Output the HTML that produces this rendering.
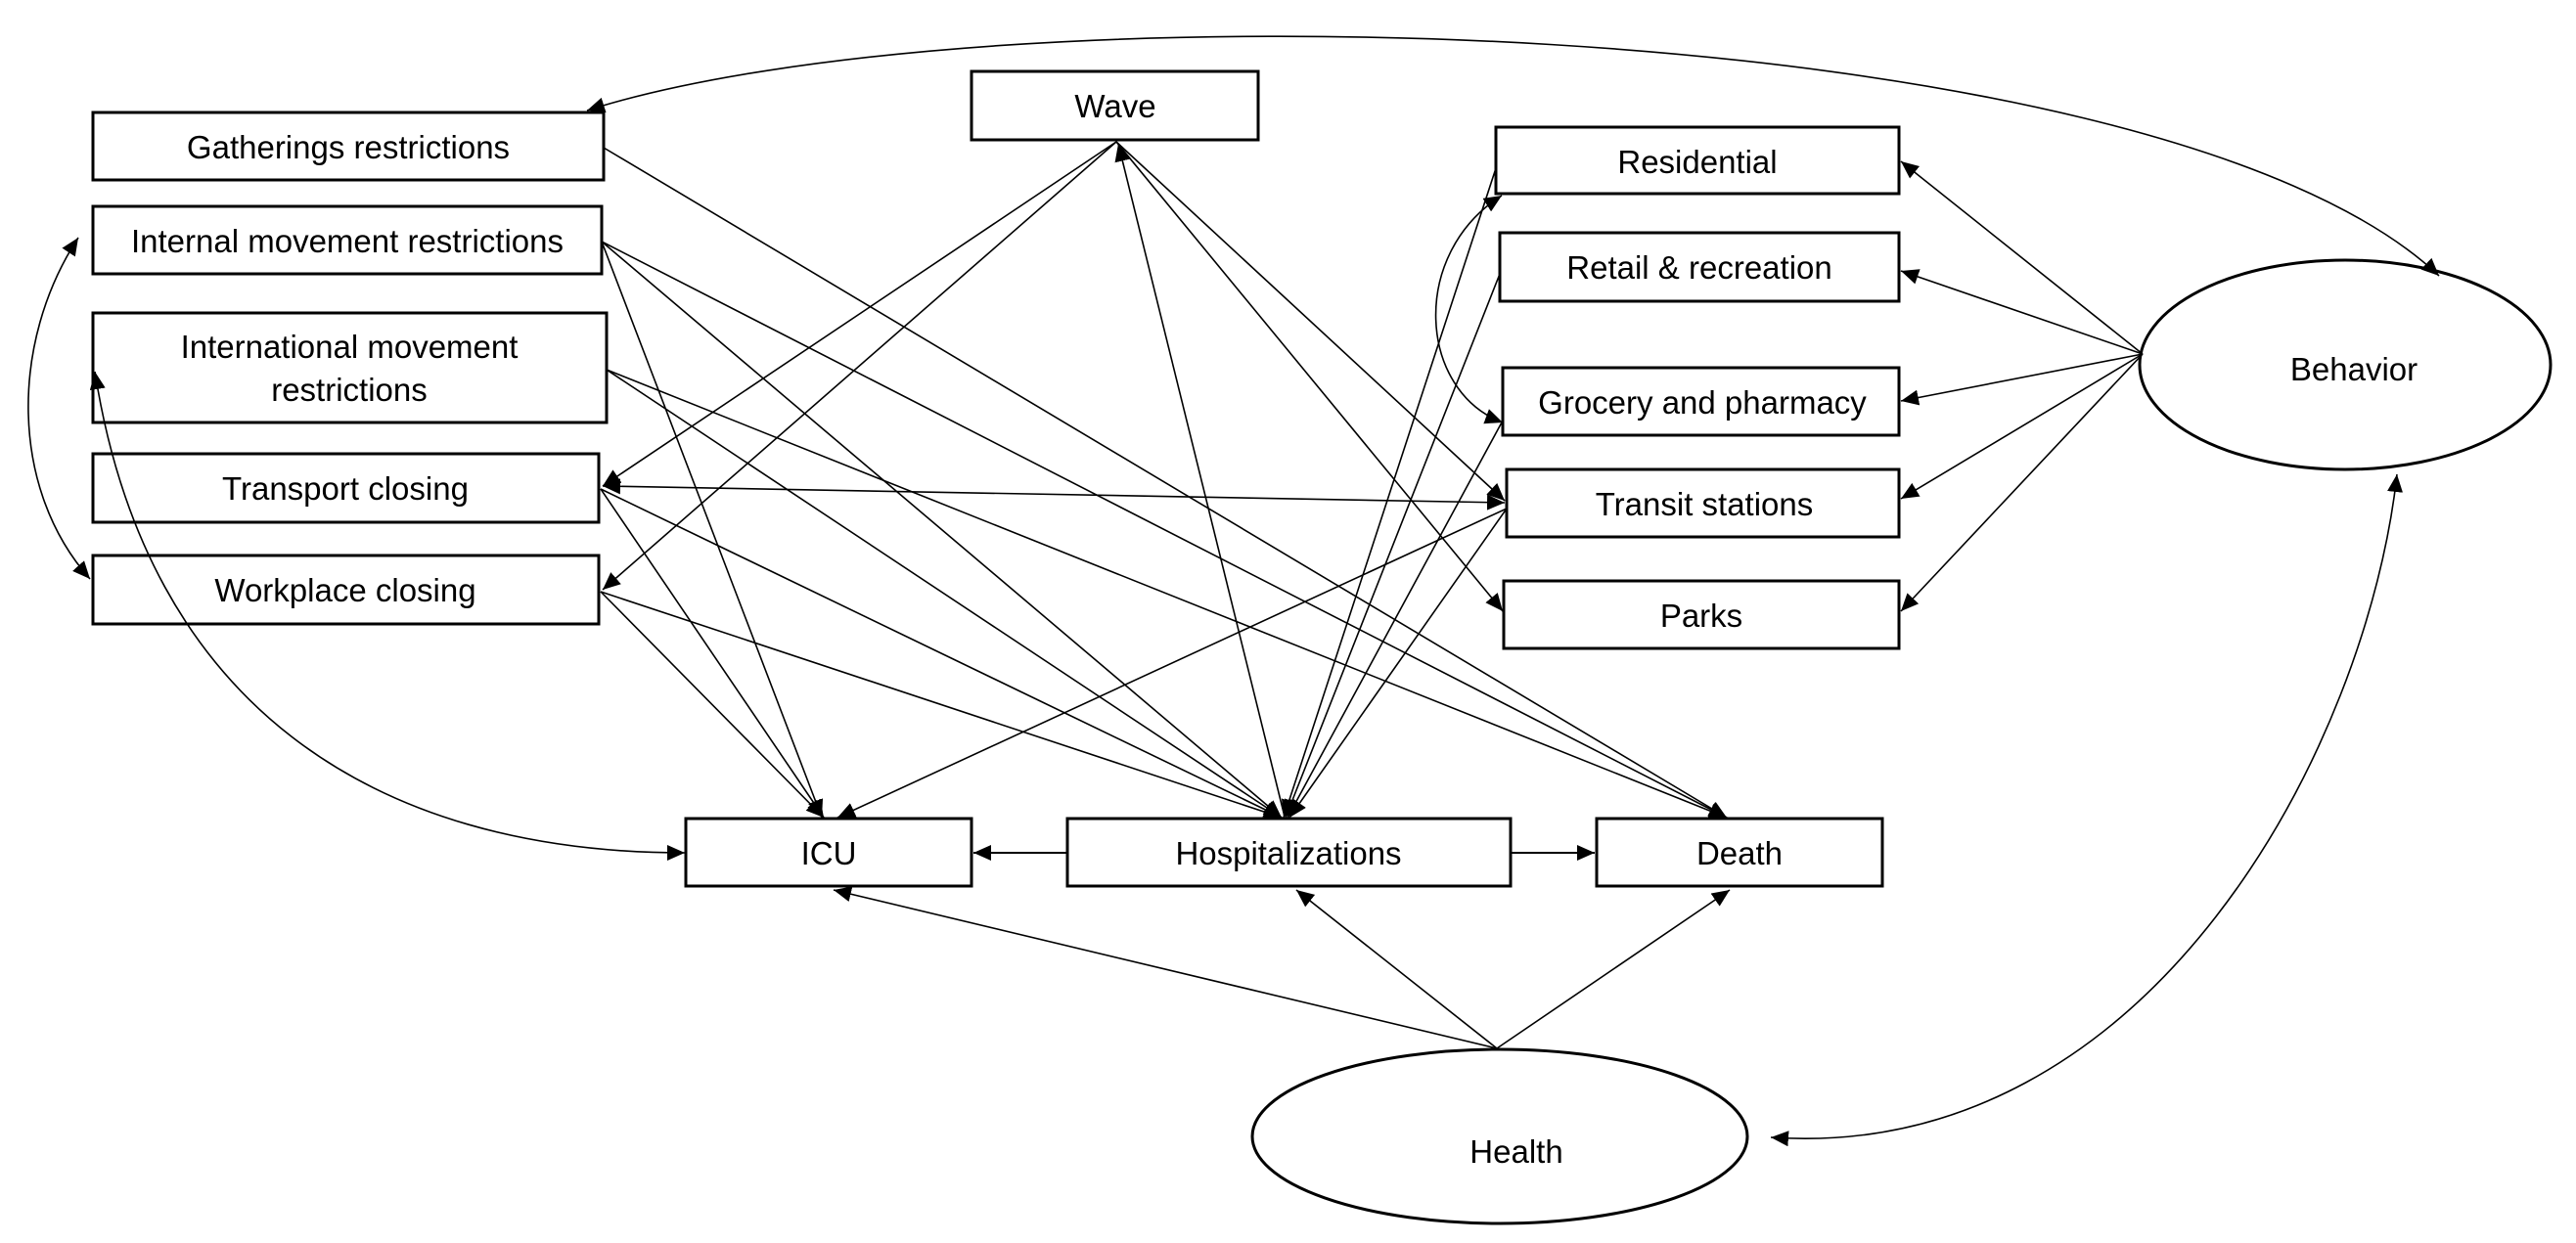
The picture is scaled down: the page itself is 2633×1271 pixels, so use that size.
<!DOCTYPE html>
<html><head><meta charset="utf-8"><style>
html,body{margin:0;padding:0;background:#fff;}
svg{display:block;}
text{font-family:"Liberation Sans",sans-serif;font-size:33px;fill:#000;}
</style></head><body>
<svg width="2633" height="1271" viewBox="0 0 2633 1271" xmlns="http://www.w3.org/2000/svg">
<defs>
<marker id="a" markerUnits="userSpaceOnUse" markerWidth="20" markerHeight="16" refX="18" refY="8" orient="auto"><path d="M0,0 L18,8 L0,16 z" fill="#000"/></marker>
<marker id="s" markerUnits="userSpaceOnUse" markerWidth="20" markerHeight="16" refX="2" refY="8" orient="auto"><path d="M20,0 L2,8 L20,16 z" fill="#000"/></marker>
</defs>
<g fill="#fff" stroke="#000" stroke-width="3">
<rect x="95" y="115" width="522" height="69"/>
<rect x="95" y="211" width="520" height="69"/>
<rect x="95" y="320" width="525" height="112"/>
<rect x="95" y="464" width="517" height="70"/>
<rect x="95" y="568" width="517" height="70"/>
<rect x="993" y="73" width="293" height="70"/>
<rect x="1529" y="130" width="412" height="68"/>
<rect x="1533" y="238" width="408" height="70"/>
<rect x="1536" y="376" width="405" height="69"/>
<rect x="1540" y="480" width="401" height="69"/>
<rect x="1537" y="594" width="404" height="69"/>
<rect x="701" y="837" width="292" height="69"/>
<rect x="1091" y="837" width="453" height="69"/>
<rect x="1632" y="837" width="292" height="69"/>
<ellipse cx="2397" cy="373" rx="210" ry="107"/>
<ellipse cx="1533" cy="1162" rx="253" ry="89"/>
</g>
<g fill="none" stroke="#000" stroke-width="1.6">
<path d="M600,113 C1000,-15 2200,5 2493,282" marker-start="url(#s)" marker-end="url(#a)"/>
<path d="M2450,485 C2420,760 2200,1190 1810,1163" marker-start="url(#s)" marker-end="url(#a)"/>
<path d="M1535,200 C1440,260 1450,400 1536,432" marker-start="url(#s)" marker-end="url(#a)"/>
<path d="M80,243 C10,350 10,500 92,592" marker-start="url(#s)" marker-end="url(#a)"/>
<path d="M97,380 C150,720 380,872 700,872" marker-start="url(#s)" marker-end="url(#a)"/>
<line x1="2190" y1="362" x2="1943" y2="165" marker-end="url(#a)"/>
<line x1="2190" y1="362" x2="1943" y2="277" marker-end="url(#a)"/>
<line x1="2190" y1="362" x2="1943" y2="410" marker-end="url(#a)"/>
<line x1="2190" y1="362" x2="1943" y2="510" marker-end="url(#a)"/>
<line x1="2190" y1="362" x2="1943" y2="625" marker-end="url(#a)"/>
<line x1="1530" y1="1072" x2="852" y2="910" marker-end="url(#a)"/>
<line x1="1530" y1="1072" x2="1325" y2="910" marker-end="url(#a)"/>
<line x1="1530" y1="1072" x2="1768" y2="910" marker-end="url(#a)"/>
<line x1="1091" y1="872" x2="995" y2="872" marker-end="url(#a)" stroke-width="2"/>
<line x1="1544" y1="872" x2="1630" y2="872" marker-end="url(#a)" stroke-width="2"/>
<line x1="1141" y1="145" x2="616" y2="497" marker-end="url(#a)"/>
<line x1="1141" y1="145" x2="616" y2="603" marker-end="url(#a)"/>
<line x1="1313" y1="835" x2="1143" y2="147" marker-end="url(#a)"/>
<line x1="1141" y1="145" x2="1538" y2="512" marker-end="url(#a)"/>
<line x1="1141" y1="145" x2="1536" y2="625" marker-end="url(#a)"/>
<line x1="1538" y1="514" x2="616" y2="497" marker-start="url(#s)" marker-end="url(#a)"/>
<line x1="617" y1="151" x2="1765" y2="836" marker-end="url(#a)"/>
<line x1="615" y1="247" x2="840" y2="836" marker-end="url(#a)"/>
<line x1="615" y1="247" x2="1310" y2="836" marker-end="url(#a)"/>
<line x1="615" y1="247" x2="1765" y2="836" marker-end="url(#a)"/>
<line x1="620" y1="378" x2="1310" y2="836" marker-end="url(#a)"/>
<line x1="620" y1="378" x2="1765" y2="836" marker-end="url(#a)"/>
<line x1="614" y1="500" x2="842" y2="836" marker-end="url(#a)"/>
<line x1="614" y1="500" x2="1310" y2="836" marker-end="url(#a)"/>
<line x1="614" y1="605" x2="842" y2="836" marker-end="url(#a)"/>
<line x1="614" y1="605" x2="1310" y2="836" marker-end="url(#a)"/>
<line x1="1529" y1="172" x2="1312" y2="836" marker-end="url(#a)"/>
<line x1="1533" y1="280" x2="1314" y2="836" marker-end="url(#a)"/>
<line x1="1536" y1="430" x2="1316" y2="836" marker-end="url(#a)"/>
<line x1="1540" y1="520" x2="1318" y2="836" marker-end="url(#a)"/>
<line x1="1540" y1="520" x2="856" y2="836" marker-end="url(#a)"/>
</g>
<g text-anchor="middle">
<text x="356" y="162">Gatherings restrictions</text>
<text x="355" y="258">Internal movement restrictions</text>
<text x="357" y="366">International movement</text>
<text x="357" y="410">restrictions</text>
<text x="353" y="511">Transport closing</text>
<text x="353" y="615">Workplace closing</text>
<text x="1140" y="120">Wave</text>
<text x="1735" y="177">Residential</text>
<text x="1737" y="285">Retail &amp; recreation</text>
<text x="1740" y="423">Grocery and pharmacy</text>
<text x="1742" y="527">Transit stations</text>
<text x="1739" y="641">Parks</text>
<text x="847" y="884">ICU</text>
<text x="1317" y="884">Hospitalizations</text>
<text x="1778" y="884">Death</text>
<text x="2406" y="389">Behavior</text>
<text x="1550" y="1189">Health</text>
</g>
</svg>
</body></html>
